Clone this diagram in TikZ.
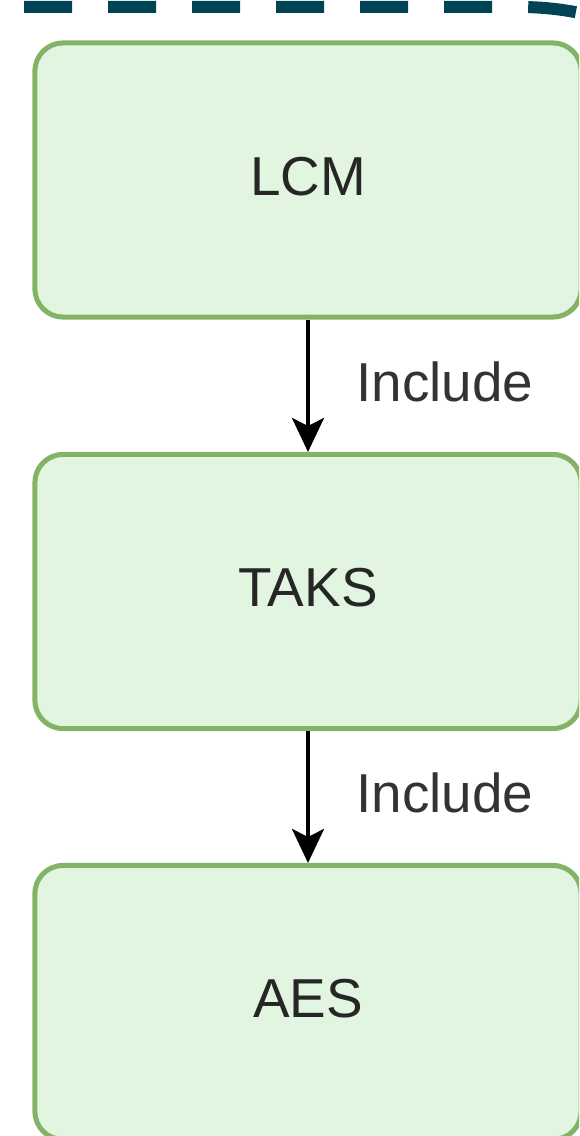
\documentclass[tikz,border=0pt]{standalone}
\usepackage{fontspec}
\setmainfont{Liberation Sans}
\usepackage{xcolor}
\usetikzlibrary{arrows.meta}

\definecolor{framedark}{RGB}{0,68,85}
\definecolor{boxfill}{RGB}{226,245,224}
\definecolor{boxline}{RGB}{130,179,102}

\begin{document}
\begin{tikzpicture}[x=0.025cm, y=-0.025cm,
  blockbox/.style={draw=boxline, fill=boxfill, line width=0.125cm, rounded corners=0.7cm,
    minimum width=13.65cm, minimum height=6.85cm, text depth=0.2cm,
    font=\fontsize{39}{46}\selectfont, text=black!85},
  incl/.style={-{Stealth[length=0.85cm, width=0.8cm, inset=0.2cm]}, line width=0.0875cm},
  incllabel/.style={font=\fontsize{39}{46}\selectfont, text=black!80, anchor=west, xshift=1.05cm}]

% Canvas
\clip (0,0) rectangle (579,1136);

% Dashed frame, top edge and corner
\draw[framedark, line width=0.3cm, dash pattern=on 1.2cm off 0.9cm, rounded corners=7.5cm]
  (-228,7) -- (820,7) -- (820,1300);

% Boxes
\node[blockbox] (lcm) at (308,180) {LCM};
\node[blockbox] (taks) at (308,591.5) {TAKS};
\node[blockbox] (aes) at (308,1002.5) {AES};

% Include arrows
\draw[incl] (lcm) -- node[incllabel, pos=0.47] {Include} (taks);
\draw[incl] (taks) -- node[incllabel, pos=0.47] {Include} (aes);

\end{tikzpicture}
\end{document}
